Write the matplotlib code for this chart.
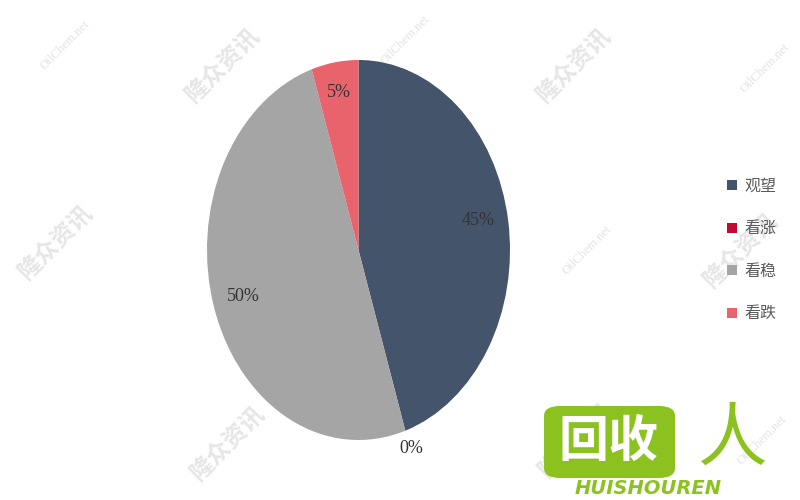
import numpy as np
import matplotlib.pyplot as plt
from matplotlib.patches import FancyBboxPatch

# data
labels = ['观望', '看涨', '看稳', '看跌']
shares = [45, 0, 50, 5]
colors = ['#44546A', '#C00A2E', '#A5A5A5', '#E8636B']

# faint watermarks seen on the picture (figure pixel centres)
wm_cn = [(222, 65), (573, 65), (55, 242), (740, 250), (227, 443), (575, 440)]
wm_en = [(65, 45), (405, 40), (765, 68), (587, 250), (762, 440)]

plt.rcParams['font.family'] = ['Noto Sans CJK SC', 'DejaVu Sans']

fig = plt.figure(figsize=(8, 5), dpi=100)
W, H = 800, 500

for x, y in wm_cn:
    fig.text(x / W, 1 - y / H, '隆众资讯', fontsize=17, fontweight='bold', color='#E6E6E6',
             rotation=45, ha='center', va='center', zorder=-1)
for x, y in wm_en:
    fig.text(x / W, 1 - y / H, 'OilChem.net', fontsize=9, family='Liberation Serif', color='#E3E3E3',
             rotation=45, ha='center', va='center', zorder=-1)

# pie is drawn stretched (ellipse) like the original
ax = fig.add_axes([207 / W, 60 / H, 303 / W, 380 / H])
ax.patch.set_alpha(0)
wedges, texts, autotexts = ax.pie(shares, colors=colors, startangle=90, counterclock=False,
                                  autopct='%1.0f%%', pctdistance=0.8,
                                  textprops=dict(family='Liberation Serif', fontsize=13, color='#333333'))
# zero slice label sits just outside the edge
for w, t, v in zip(wedges, autotexts, shares):
    if v == 0:
        ang = np.deg2rad(w.theta1)
        t.set_position((1.12 * np.cos(ang), 1.1 * np.sin(ang)))
    if v == 5:
        x, y = t.get_position()
        t.set_position((x * 1.05, y * 1.05))
    if v == 45:
        x, y = t.get_position()
        t.set_position((x, y + 0.03))
ax.set_aspect('auto')
ax.set_xlim(-1, 1)
ax.set_ylim(-1, 1)

leg = fig.legend(wedges, labels, loc='center left', bbox_to_anchor=(713 / W, 1 - 250 / H),
                 frameon=False, fontsize=11.5, labelspacing=1.6, handlelength=0.6, handleheight=0.6,
                 handletextpad=0.5, labelcolor='#595959')

# logo in the lower right corner
green = '#8CC21F'
box = FancyBboxPatch((544 / W, 1 - 478 / H), 131 / W, 72 / H, boxstyle='round,pad=0.0,rounding_size=0.02',
                     transform=fig.transFigure, facecolor=green, edgecolor='none', zorder=5)
fig.patches.append(box)
fig.text(609 / W, 1 - 442 / H, '回收', fontsize=36, fontweight='bold', color='white',
         ha='center', va='center', zorder=6)
fig.text(732 / W, 1 - 440 / H, '人', fontsize=50, color=green, ha='center', va='center', zorder=6)
fig.text(648 / W, 1 - 488 / H, 'HUISHOUREN', fontsize=14, fontweight='bold', style='italic',
         family='DejaVu Sans', color=green, ha='center', va='center', zorder=6)

fig.savefig('out.png', dpi=100)
